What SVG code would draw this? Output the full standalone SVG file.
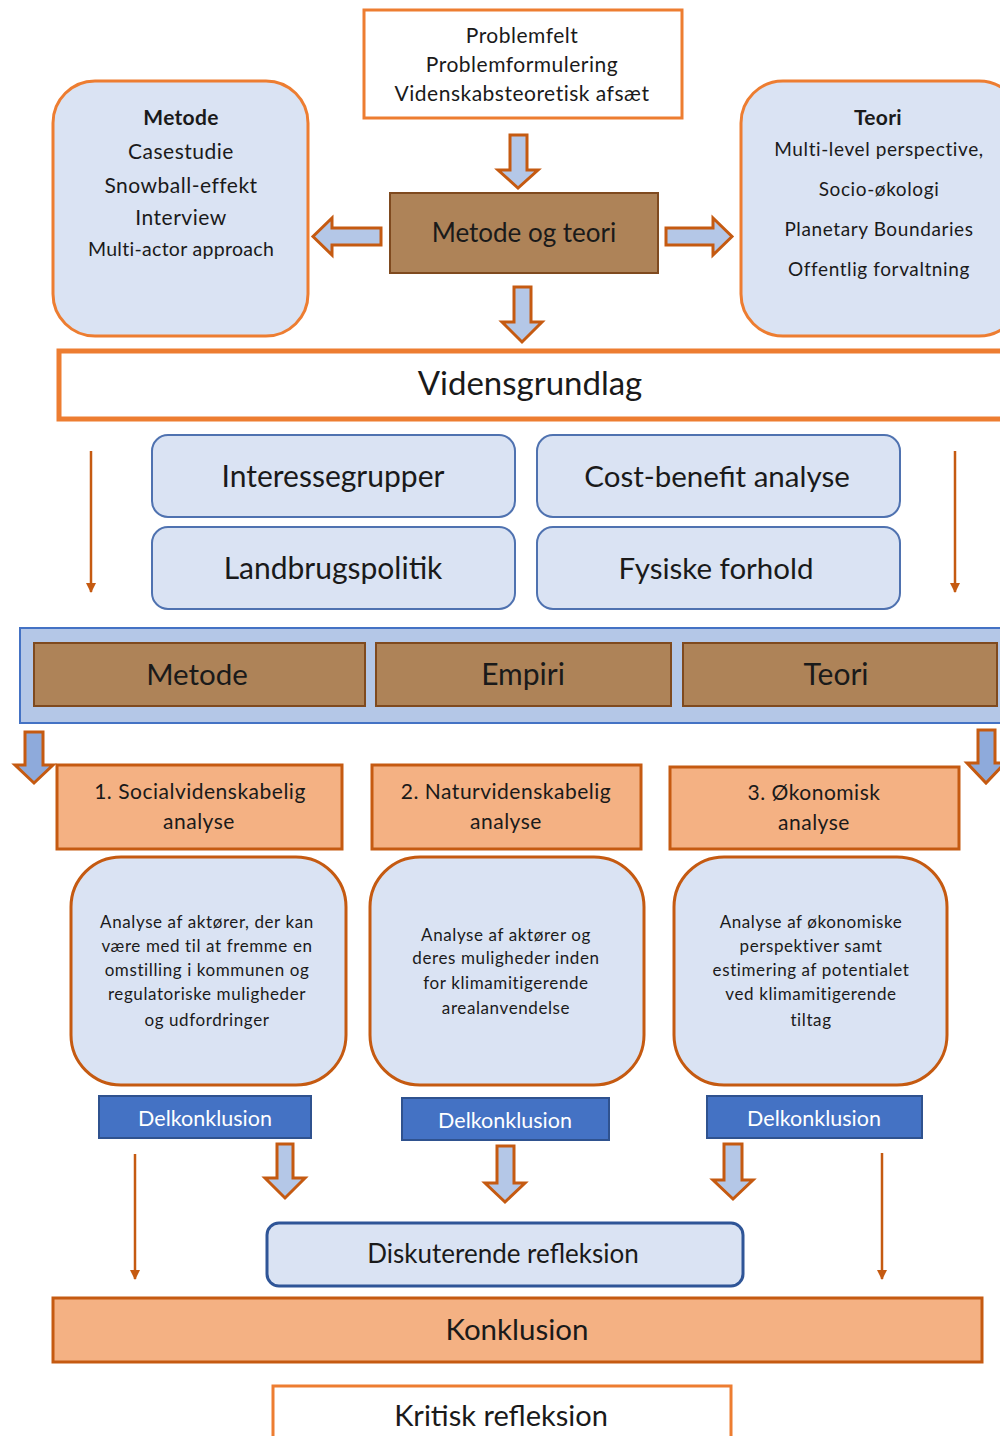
<svg xmlns="http://www.w3.org/2000/svg" width="1000" height="1436" viewBox="0 0 1000 1436">
<defs>
<style>
text{font-family:Lato,"Liberation Sans",sans-serif;fill:#1a1a1a;text-anchor:middle}
.ob{fill:#fff;stroke:#ed7d31;stroke-width:3}
.lb{fill:#dae3f3;stroke:#ed7d31;stroke-width:3}
.br{fill:#ae8358;stroke:#7f4a1f;stroke-width:2}
.bl{fill:#dae3f3;stroke:#4f72b0;stroke-width:2}
.an{fill:#f4b183;stroke:#c55a11;stroke-width:3}
.tb{fill:#dae3f3;stroke:#c55a11;stroke-width:3}
.dk{fill:#4472c4;stroke:#2f528f;stroke-width:2}
text.wt{fill:#fff}
.sm{font-size:17px;letter-spacing:0.6px}
.md{font-size:21px;letter-spacing:0.5px}
.ba{fill:#b4c7e7;stroke:#c55a11;stroke-width:3;stroke-linejoin:miter}
.ba2{fill:#8eaadb;stroke:#c55a11;stroke-width:3}
.th{stroke:#c55a11;stroke-width:2.5;fill:none}
</style>
<marker id="ah2" viewBox="0 0 10 10" refX="9" refY="5" markerWidth="10" markerHeight="10" orient="auto" markerUnits="userSpaceOnUse">
<path d="M0,0 L10,5 L0,10 Z" fill="#c55a11"/>
</marker>
</defs>

<g id="problemfelt">
<rect class="ob" x="364" y="10" width="318" height="108"/>
<text x="522" y="43" class="md">Problemfelt</text>
<text x="522" y="72" class="md">Problemformulering</text>
<text x="522" y="101" class="md">Videnskabsteoretisk afsæt</text>
</g>

<g id="metode-og-teori">
<rect class="br" x="390" y="193" width="268" height="80"/>
<text x="524" y="242" font-size="26">Metode og teori</text>
</g>

<g id="metode-box">
<rect class="lb" x="53" y="81" width="255" height="255" rx="42"/>
<text x="181" y="125" font-size="21" font-weight="bold" letter-spacing="0.3">Metode</text>
<text x="181" y="159" class="md">Casestudie</text>
<text x="181" y="193" class="md">Snowball-effekt</text>
<text x="181" y="225" class="md">Interview</text>
<text x="181" y="256" font-size="19.5" letter-spacing="0.3">Multi-actor approach</text>
</g>

<g id="teori-box">
<rect class="lb" x="741" y="81" width="280" height="255" rx="42"/>
<text x="878" y="125" font-size="21" font-weight="bold" letter-spacing="0.3">Teori</text>
<text x="879" y="156" font-size="19" letter-spacing="0.6">Multi-level perspective,</text>
<text x="879" y="196" font-size="19" letter-spacing="0.6">Socio-økologi</text>
<text x="879" y="236" font-size="19" letter-spacing="0.6">Planetary Boundaries</text>
<text x="879" y="276" font-size="19" letter-spacing="0.6">Offentlig forvaltning</text>
</g>

<g id="vidensgrundlag">
<rect x="59" y="351" width="950" height="68" fill="#fff" stroke="#ed7d31" stroke-width="5"/>
<text x="530" y="395" font-size="33">Vidensgrundlag</text>
</g>

<g id="interessegrupper">
<rect class="bl" x="152" y="435" width="363" height="82" rx="16"/>
<text x="333" y="487" font-size="30">Interessegrupper</text>
</g>
<g id="cost-benefit">
<rect class="bl" x="537" y="435" width="363" height="82" rx="16"/>
<text x="717" y="487" font-size="29.5">Cost-benefit analyse</text>
</g>
<g id="landbrugspolitik">
<rect class="bl" x="152" y="527" width="363" height="82" rx="16"/>
<text x="333" y="579" font-size="30">Landbrugspolitik</text>
</g>
<g id="fysiske-forhold">
<rect class="bl" x="537" y="527" width="363" height="82" rx="16"/>
<text x="716" y="579" font-size="29.5">Fysiske forhold</text>
</g>

<g id="band">
<rect x="20" y="628" width="995" height="95" fill="#b4c7e7" stroke="#4472c4" stroke-width="2"/>
</g>
<g id="band-metode">
<rect class="br" x="34" y="643" width="331" height="63"/>
<text x="197" y="685" font-size="29.5">Metode</text>
</g>
<g id="band-empiri">
<rect class="br" x="376" y="643" width="295" height="63"/>
<text x="523" y="685" font-size="30">Empiri</text>
</g>
<g id="band-teori">
<rect class="br" x="683" y="643" width="314" height="63"/>
<text x="836" y="685" font-size="30">Teori</text>
</g>

<g id="analyse-1">
<rect class="an" x="57" y="765" width="285" height="84"/>
<text x="200" y="799" class="md">1. Socialvidenskabelig</text>
<text x="199" y="829" class="md">analyse</text>
</g>
<g id="analyse-2">
<rect class="an" x="372" y="765" width="269" height="84"/>
<text x="506" y="799" class="md">2. Naturvidenskabelig</text>
<text x="506" y="829" class="md">analyse</text>
</g>
<g id="analyse-3">
<rect class="an" x="670" y="767" width="289" height="82"/>
<text x="814" y="800" class="md">3. Økonomisk</text>
<text x="814" y="830" class="md">analyse</text>
</g>

<g id="tekst-1">
<rect class="tb" x="71" y="857" width="275" height="228" rx="50"/>
<text x="207" y="928" class="sm">Analyse af aktører, der kan</text>
<text x="207" y="952" class="sm">være med til at fremme en</text>
<text x="207" y="976" class="sm">omstilling i kommunen og</text>
<text x="207" y="1000" class="sm">regulatoriske muligheder</text>
<text x="207" y="1026" class="sm">og udfordringer</text>
</g>
<g id="tekst-2">
<rect class="tb" x="370" y="857" width="274" height="228" rx="50"/>
<text x="506" y="941" class="sm">Analyse af aktører og</text>
<text x="506" y="964" class="sm">deres muligheder inden</text>
<text x="506" y="989" class="sm">for klimamitigerende</text>
<text x="506" y="1014" class="sm">arealanvendelse</text>
</g>
<g id="tekst-3">
<rect class="tb" x="674" y="857" width="273" height="228" rx="50"/>
<text x="811" y="928" class="sm">Analyse af økonomiske</text>
<text x="811" y="952" class="sm">perspektiver samt</text>
<text x="811" y="976" class="sm">estimering af potentialet</text>
<text x="811" y="1000" class="sm">ved klimamitigerende</text>
<text x="811" y="1026" class="sm">tiltag</text>
</g>

<g id="delkonklusion-1">
<rect class="dk" x="99" y="1096" width="212" height="42"/>
<text class="wt" x="205" y="1126" font-size="21.5">Delkonklusion</text>
</g>
<g id="delkonklusion-2">
<rect class="dk" x="402" y="1098" width="207" height="42"/>
<text class="wt" x="505" y="1128" font-size="21.5">Delkonklusion</text>
</g>
<g id="delkonklusion-3">
<rect class="dk" x="707" y="1096" width="215" height="42"/>
<text class="wt" x="814" y="1126" font-size="21.5">Delkonklusion</text>
</g>

<g id="diskuterende">
<rect x="267" y="1223" width="476" height="63" rx="12" fill="#dae3f3" stroke="#2f5597" stroke-width="3"/>
<text x="503" y="1263" font-size="26">Diskuterende refleksion</text>
</g>

<g id="konklusion">
<rect class="an" x="53" y="1298" width="929" height="64"/>
<text x="517" y="1340" font-size="29.5">Konklusion</text>
</g>

<g id="kritisk">
<rect class="ob" x="273" y="1386" width="458" height="60"/>
<text x="501" y="1426" font-size="29">Kritisk refleksion</text>
</g>

<g id="connectors">
<path class="ba" d="M510,135 H527 V170 H538 L518,188 L498,170 H510 Z"/>
<path class="ba" d="M514,287 H531 V322 H542 L522,342 L502,322 H514 Z"/>
<path class="ba" d="M381,228 V245 H332 V255 L313,236.5 L332,218 V228 Z"/>
<path class="ba" d="M666,228 V245 H713 V255 L732,236.5 L713,218 V228 Z"/>
<path class="ba2" d="M25,732 H43 V765 H53 L34,783 L15,765 H25 Z"/>
<path class="ba2" d="M978,730 H995 V763 H1005 L986,783 L967,763 H978 Z"/>
<path class="ba" d="M277,1144 H293 V1178 H305 L285,1198 L265,1178 H277 Z"/>
<path class="ba" d="M497,1146 H514 V1183 H525 L505,1202 L485,1183 H497 Z"/>
<path class="ba" d="M724,1144 H742 V1180 H753 L733,1199 L713,1180 H724 Z"/>
<path class="th" d="M91,451 V592" marker-end="url(#ah2)"/>
<path class="th" d="M955,451 V592" marker-end="url(#ah2)"/>
<path class="th" d="M135,1154 V1279" marker-end="url(#ah2)"/>
<path class="th" d="M882,1153 V1279" marker-end="url(#ah2)"/>
</g>
</svg>
